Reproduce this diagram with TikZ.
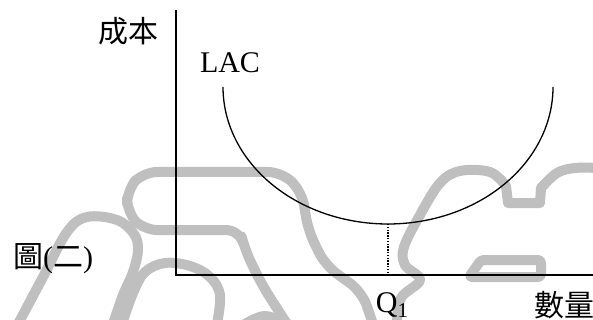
\documentclass[tikz,border=0pt]{standalone}
\usepackage{fontspec}
\setmainfont{Liberation Serif}
\newfontfamily\cjk{Noto Sans CJK TC}
\begin{document}
\begin{tikzpicture}[x=1pt,y=-1pt,
  wm/.style={draw=black!25, line width=10pt, line cap=round, line join=round},
  axis/.style={line width=1.6pt},
  curve/.style={line width=1.3pt},
  guide/.style={line width=1.3pt, dash pattern=on 1.3pt off 1.5pt},
  lbl/.style={inner sep=0pt, font=\fontsize{30}{30}\selectfont}]
\useasboundingbox (0,0) rectangle (593,320);
% watermark
\draw[wm, rounded corners=14pt] (287,324) -- (262,285) -- (245,250) -- (240,230) -- (143,230) -- (127,212) -- (127,190) -- (143,172) -- (282,172) -- (302,192) -- (308,230) -- (325,265) -- (362,292) -- (373,324);
\draw[wm] plot[smooth, tension=0.6] coordinates {(18,324) (43,277) (67,232) (87,217) (117,220) (134,234) (138,250) (133,272) (123,295) (113,324)};
\draw[wm] plot[smooth, tension=0.6] coordinates {(122,324) (133,293) (145,272) (165,263) (190,266) (210,277) (220,295) (217,324)};
\draw[wm] plot[smooth, tension=0.6] coordinates {(242,326) (265,316) (292,326)};
\draw[wm] plot[smooth, tension=0.6] coordinates {(397,324) (401,298) (420,280) (405,265) (404,247) (420,215) (440,183) (460,171) (490,172) (506,186)} -- (508,203) -- (540,203) -- (541,188);
\draw[wm] plot[smooth, tension=0.6] coordinates {(541,188) (557,173) (575,168) (598,168)};
\draw[wm, rounded corners=3pt] (481,260) -- (541,260) -- (541,277) -- (469,277) -- cycle;
% axes
\coordinate (ytop) at (176,10);
\coordinate (origin) at (176,275);
\coordinate (xend) at (593,275);
\draw[axis] (ytop) -- (origin) -- (xend);
% LAC curve
\draw[curve] plot[domain=180:0, samples=90, smooth] ({388+165*cos(\x)}, {87+137*sin(\x)});
\coordinate (cmin) at (388,224);
\coordinate (qfoot) at (388,275);
\draw[guide] (cmin) -- (qfoot);
% labels
\node[lbl] (cost) at (128,31) {\cjk 成本};
\node[lbl, anchor=base] (lac) at (230,73) {LAC};
\node[lbl] (fig) at (53,259) {\cjk 圖\rmfamily(\cjk 二\rmfamily)};
\node[lbl, anchor=base] (q1) at (392,312) {Q\raisebox{-5pt}{\fontsize{21}{21}\selectfont 1}};
\node[lbl] (qty) at (564,305) {\cjk 數量};
\end{tikzpicture}
\end{document}
